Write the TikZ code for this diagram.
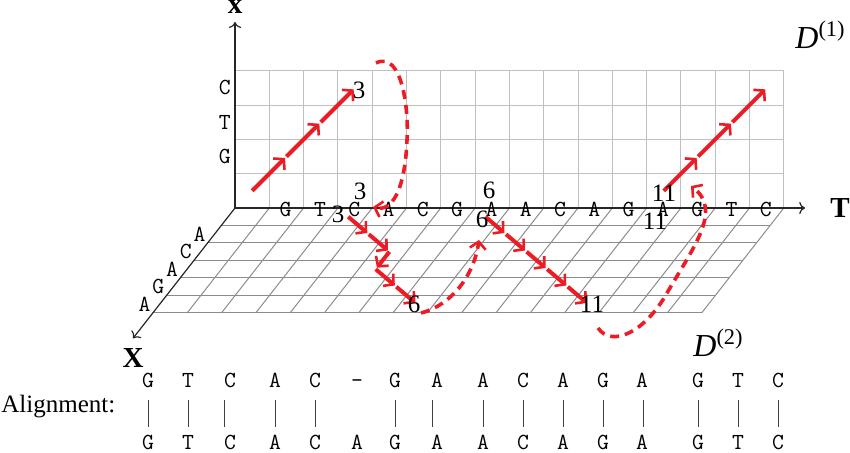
\documentclass[tikz,border=0pt]{standalone}
\usepackage{fontspec}
\setmainfont{Liberation Serif}
\usetikzlibrary{arrows.meta}

\definecolor{pathred}{RGB}{237,28,36}

\tikzset{
  seq/.style={font=\ttfamily\fontsize{11.5}{13}\selectfont, text=black, inner sep=0pt},
  num/.style={font=\fontsize{12.5}{15}\selectfont, inner sep=0pt},
  axislabel/.style={font=\bfseries\fontsize{14.5}{17}\selectfont, inner sep=0pt},
  wallgrid/.style={black!25, line width=0.5pt},
  floorgrid/.style={black!45, line width=0.5pt},
  axis/.style={black!85, line width=0.6pt, ->},
  walk/.style={pathred, line width=2pt, shorten >=1pt,
    -{Straight Barb[length=3.5pt,width=8pt,line width=1.3pt]}},
  jump/.style={pathred, line width=1.8pt, dash pattern=on 4.5pt off 3pt,
    -{Straight Barb[length=3.5pt,width=8pt,line width=1.3pt]}},
}

\begin{document}
\begin{tikzpicture}[x=0.5pt,y=-0.5pt]
  \useasboundingbox (0,0) rectangle (850,453);

  % D^(1): the upright grid
  \begin{scope}[shift={(235,208)}, x={(17.15pt,0pt)}, y={(0pt,17.15pt)}]
    \foreach \i in {1,...,16} \draw[wallgrid] (\i,0) -- (\i,4);
    \foreach \j in {1,...,4} \draw[wallgrid] (0,\j) -- (16,\j);
    \draw[axis] (0,0) -- (0,5.42);
    \foreach \c [count=\j] in {G,T,C}
      \node[seq] (x\j) at (-0.3,\j+0.5) {\c};
    % path through D^(1)
    \foreach \k in {0,...,3} \coordinate (a\k) at (\k+0.5,\k+0.5);
    \foreach \k in {0,...,3} \coordinate (b\k) at (\k+12.5,\k+0.5);
    \foreach \k [remember=\k as \p (initially 0)] in {1,2,3} {
      \draw[walk] (a\p) -- (a\k);
      \draw[walk] (b\p) -- (b\k);
    }
  \end{scope}

  % D^(2): the grid on the floor
  \begin{scope}[shift={(235,208)}, x={(17.15pt,0pt)}, y={(-6.85pt,-8.75pt)}]
    \foreach \i in {1,...,16} \draw[floorgrid] (\i,0) -- (\i,6);
    \foreach \j in {1,...,6} \draw[floorgrid] (0,\j) -- (16,\j);
    \draw[axis] (0,0) -- (0,7.45);
    \draw[axis] (0,0) -- (16.62,0);
    \foreach \c [count=\j] in {A,C,A,G,A}
      \node[seq, xshift=-7.5pt] (y\j) at (0,\j+0.5) {\c};
    \foreach \c [count=\i] in {G,T,C,A,C,G,A,A,C,A,G,A,G,T,C}
      \node[seq] (t\i) at (\i+0.5,0.06) {\c};
    % path through D^(2)
    \foreach \u/\v [count=\n] in {3.5/0.5, 4.5/1.5, 5.5/2.5, 5.5/3.5, 6.5/4.5, 7.5/5.5}
      \coordinate (f\n) at (\u,\v);
    \foreach \n [remember=\n as \p (initially 1)] in {2,...,6}
      \draw[walk] (f\p) -- (f\n);
    \foreach \k in {0,...,5} \coordinate (g\k) at (\k+7.5,\k+0.5);
    \foreach \k [remember=\k as \p (initially 0)] in {1,...,5}
      \draw[walk] (g\p) -- (g\k);
  \end{scope}

  % jumps between the two grids
  \coordinate (j1) at (376,63);
  \coordinate (j2) at (373,207);
  \draw[jump] (j1) .. controls (402,50) and (409,110) .. (407,140)
    .. controls (405,190) and (392,212) .. (j2);
  \coordinate (j3) at (421,313);
  \coordinate (j4) at (479,240);
  \draw[jump] (j3) .. controls (452,305) and (474,275) .. (j4);
  \coordinate (j5) at (598,328);
  \coordinate (j6) at (691,186);
  \draw[jump] (j5) .. controls (612,348) and (645,332) .. (667,293)
    .. controls (695,245) and (722,210) .. (j6);

  % step counts
  \node[num] (n3a) at (359,90) {3};
  \node[num] (n3b) at (360,191) {3};
  \node[num] (n6a) at (489,190) {6};
  \node[num] (n11a) at (664,193) {11};
  \node[num] (n3c) at (338,214) {3};
  \node[num] (n6b) at (482,219) {6};
  \node[num] (n11b) at (655,221) {11};
  \node[num] (n6c) at (414,304) {6};
  \node[num] (n11c) at (592,304) {11};

  % axis names
  \node[axislabel, anchor=base] (xlab) at (235,14) {x};
  \node[axislabel, anchor=base] (tlab) at (840,218) {T};
  \node[axislabel, anchor=base] (Xlab) at (133,368) {X};
  \node[font=\fontsize{16}{19}\selectfont, inner sep=0pt, anchor=base west] (d1) at (795,49)
    {\textit{D}\textsuperscript{(1)}};
  \node[font=\fontsize{16}{19}\selectfont, inner sep=0pt, anchor=base west] (d2) at (693,357)
    {\textit{D}\textsuperscript{(2)}};

  % the alignment
  \node[num, anchor=base west] (align) at (1,413) {Alignment:};
  \foreach \x/\t/\b in {148/G/G, 188/T/T, 230/C/C, 275/A/A, 315/C/C, 357/\textendash/A,
      395/G/G, 437/A/A, 483/A/A, 523/C/C, 563/A/A, 603/G/G, 642/A/A,
      698/G/G, 738/T/T, 778/C/C} {
    \node[seq, anchor=base] (up\x) at (\x,388) {\t};
    \node[seq, anchor=base] (lo\x) at (\x,450) {\b};
  }
  \foreach \x in {148,188,224,275,315,395,432,483,523,563,603,643,698,738,778}
    \draw[black!75, line width=0.5pt] (\x,400) -- (\x,427);
\end{tikzpicture}
\end{document}
